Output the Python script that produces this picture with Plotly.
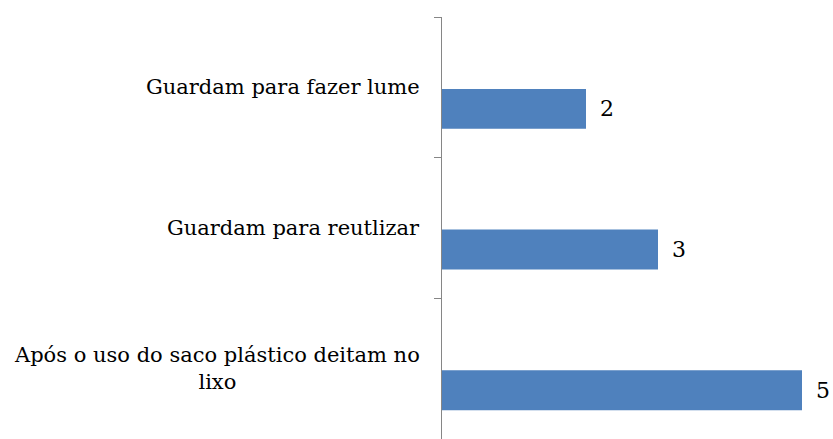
import plotly.graph_objects as go

# Data (bottom to top)
categories = ["Após o uso do saco plástico deitam no<br>lixo",
              "Guardam para reutlizar",
              "Guardam para fazer lume"]
values = [5, 3, 2]

bar_color = "#4F81BD"
font_family = "DejaVu Serif"
fsize = 21

positions = list(range(len(categories)))
bar_width = 0.284
bar_offset = -0.295

fig = go.Figure()
fig.add_trace(go.Bar(
    y=positions, x=values, orientation="h",
    width=bar_width, offset=bar_offset,
    marker=dict(color=bar_color, line=dict(width=0)),
    hoverinfo="x",
))

annotations = []
for p, c in zip(positions, categories):
    annotations.append(dict(
        xref="paper", yref="y", x=0, y=p, text=c, showarrow=False,
        xanchor="right", yanchor="middle", align="center", xshift=-20,
        font=dict(family=font_family, size=fsize, color="black"),
    ))
for p, v in zip(positions, values):
    annotations.append(dict(
        xref="x", yref="y", x=v, y=p + bar_offset + bar_width / 2,
        text=str(v), showarrow=False, xanchor="left", yanchor="middle",
        xshift=12,
        font=dict(family=font_family, size=fsize + 1, color="black"),
    ))

fig.update_layout(
    width=833, height=439,
    margin=dict(l=442, r=0, t=17, b=0),
    plot_bgcolor="white", paper_bgcolor="white",
    showlegend=False,
    font=dict(family=font_family),
    annotations=annotations,
    xaxis=dict(range=[0, 391 / 72], visible=False, fixedrange=True),
    yaxis=dict(
        range=[-0.5, len(categories) - 0.5],
        tickmode="array",
        tickvals=[i - 0.5 for i in range(len(categories) + 1)],
        showticklabels=False,
        ticks="outside", ticklen=7, tickcolor="#868686", tickwidth=1,
        showline=True, linecolor="#868686", linewidth=1,
        showgrid=False, zeroline=False,
    ),
)

fig.write_html("out.html")
